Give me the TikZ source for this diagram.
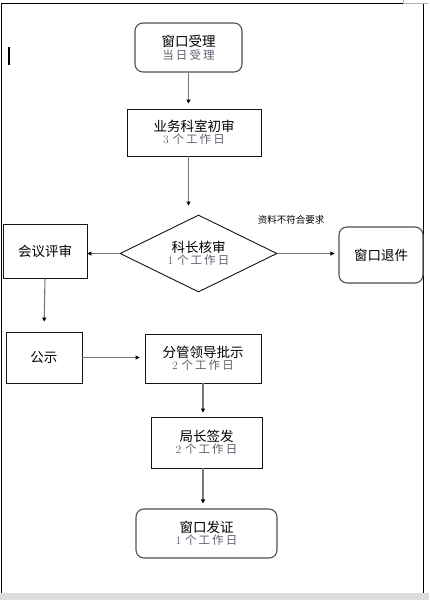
\documentclass[tikz,border=0pt]{standalone}
\usepackage{fontspec}
\usepackage{xcolor}
\usepackage{tikz}
\usetikzlibrary{shapes.geometric, arrows.meta, positioning, calc}
\newfontfamily\cjk{Noto Sans CJK SC}
\newfontfamily\cjksub[LetterSpace=18]{Noto Sans CJK SC}
\definecolor{mydark}{RGB}{20,20,20}
\definecolor{myline}{RGB}{120,120,120}
\definecolor{myedge}{RGB}{80,80,80}
\definecolor{mysub}{RGB}{95,95,110}
\definecolor{mystrip}{RGB}{220,220,220}
\newcommand{\steptitle}[1]{{\cjk\fontsize{13.5}{20}\selectfont #1}}
\newcommand{\stepdays}[2]{{\color{mysub}\fontsize{11.5}{20}\selectfont #1\ {\cjksub #2}}}
\tikzset{
  block/.style={rectangle, draw=mydark, fill=white,
    align=center, inner sep=0pt, line width=0.9pt},
  roundblock/.style={rectangle, draw=myedge, fill=white,
    align=center, inner sep=0pt, rounded corners=8pt, line width=1.1pt},
  decision/.style={diamond, aspect=2, draw=mydark, fill=white, align=center,
    inner sep=0pt, line width=0.9pt},
  arrow/.style={-{Triangle[length=4pt, width=4pt, color=black]}, line width=1.1pt, color=myline}
}
\begin{document}
\begin{tikzpicture}[x=1pt, y=-1pt]
  \useasboundingbox (0,0) rectangle (429,600);

  % Page frame
  \fill[mystrip] (0,592.5) rectangle (429,600);
  \draw[line width=1pt] (1.5,592.5) -- (1.5,3.5) -- (423,3.5) -- (423,592.5);
  \draw[gray!60, line width=0.8pt] (403,0) -- (403,3) -- (428,3);
  \draw[line width=2pt] (9,47) -- (9,65);

  % Top Node
  \node[roundblock, minimum width=107pt, minimum height=49pt] (win) at (188.5,47.5)
    {\steptitle{窗口受理}\\[1pt] {\color{mysub}\fontsize{11.5}{20}\selectfont\cjksub 当日受理}};

  % First check
  \node[block, minimum width=134pt, minimum height=47pt] (first) at (194,132.5)
    {\steptitle{业务科室初审}\\ \stepdays{3}{个工作日}};

  % Decision
  \node[decision, minimum width=157pt, minimum height=77pt] (chief) at (198.5,253.5)
    {\steptitle{科长核审}\\ \stepdays{1}{个工作日}};

  % Side Nodes
  \node[block, minimum width=84pt, minimum height=54pt] (meet) at (45,251) {\steptitle{会议评审}};
  \node[roundblock, minimum width=84pt, minimum height=56pt] (reject) at (381,255) {\steptitle{窗口退件}};
  \node[font=\cjk\fontsize{9.5}{11}\selectfont] (reason) at (291,220) {资料不符合要求};

  % Lower Nodes
  \node[block, minimum width=76pt, minimum height=51pt] (notice) at (44,357.5) {\steptitle{公示}};
  \node[block, minimum width=116pt, minimum height=49pt] (lead) at (203,358.5)
    {\steptitle{分管领导批示}\\ \stepdays{2}{个工作日}};
  \node[block, minimum width=111pt, minimum height=51pt] (director) at (206.5,442.5)
    {\steptitle{局长签发}\\ \stepdays{2}{个工作日}};

  % Bottom Node
  \node[roundblock, minimum width=141pt, minimum height=49pt] (cert) at (206.5,533.5)
    {\steptitle{窗口发证}\\ \stepdays{1}{个工作日}};

  % Paths
  \draw[arrow, shorten >=5pt] (win.south) -- (win.south |- first.north);
  \draw[arrow, shorten >=9pt] (win.south |- first.south) -- (win.south |- chief.north);
  \draw[arrow] (chief.west) -- (chief.west -| meet.east);
  \draw[arrow, shorten >=4pt] (chief.east) -- (chief.east -| reject.west);
  \draw[arrow, shorten >=10pt] (meet.south) -- (notice.north);
  \draw[arrow, shorten >=5pt] (notice.east) -- (notice.east -| lead.west);
  \draw[arrow, shorten >=4pt] (lead.south) -- (lead.south |- director.north);
  \draw[arrow, shorten >=5pt] (lead.south |- director.south) -- (lead.south |- cert.north);
\end{tikzpicture}
\end{document}
